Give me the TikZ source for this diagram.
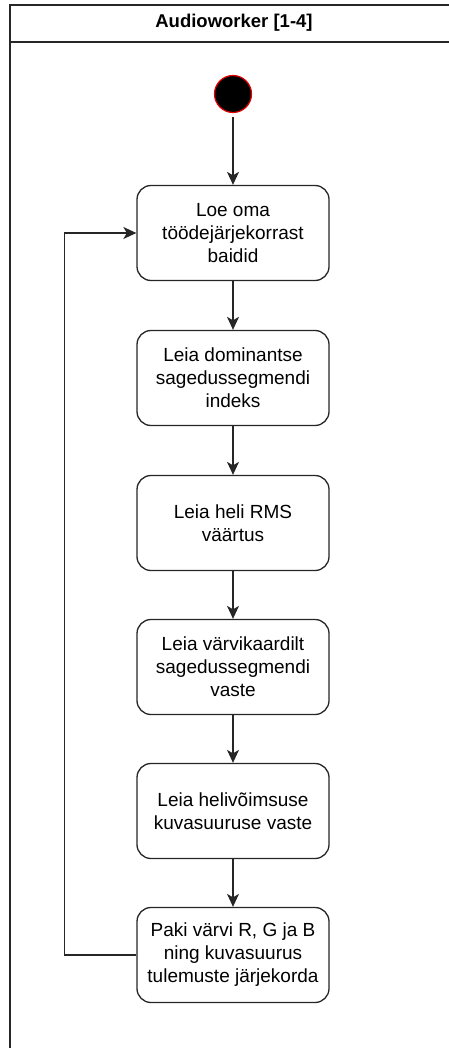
\documentclass[tikz,border=0pt]{standalone}
\usepackage{fontspec}
\setmainfont{Liberation Sans}
\usetikzlibrary{arrows.meta}
\begin{document}
\begin{tikzpicture}[x=1pt,y=-1pt,
  frame/.style={draw=black!85, line width=1.3pt},
  stepbox/.style={draw=black!85, line width=1.3pt, rounded corners=14pt, fill=white,
    minimum width=192pt, minimum height=95pt, align=center,
    font=\fontsize{19}{23}\selectfont},
  flow/.style={draw=black!85, line width=1.3pt, -{Stealth[length=13pt,width=12pt,inset=3.5pt]}}]
\useasboundingbox (0,0) rectangle (448,1048);
% swimlane frame and title bar
\draw[frame] (10,5) rectangle (470,1070);
\draw[frame] (10,42) -- (470,42);
\node[font=\fontsize{18.5}{22}\selectfont\bfseries] (title) at (234,23) {Audioworker [1-4]};
% start node
\node[circle, draw=red!90!black, fill=black, line width=1.2pt, minimum size=37pt, inner sep=0pt] (start) at (233,94) {};
% activity steps
\node[stepbox] (s1) at (233,233) {Loe oma\\töödejärjekorrast\\baidid};
\node[stepbox] (s2) at (233,378) {Leia dominantse\\sagedussegmendi\\indeks};
\node[stepbox] (s3) at (233,523) {Leia heli RMS\\väärtus};
\node[stepbox] (s4) at (233,667) {Leia värvikaardilt\\sagedussegmendi\\vaste};
\node[stepbox] (s5) at (233,811) {Leia helivõimsuse\\kuvasuuruse vaste};
\node[stepbox] (s6) at (233,955) {Paki värvi R, G ja B\\ning kuvasuurus\\tulemuste järjekorda};
% connectors
\draw[flow, shorten <=4pt] (start) -- (s1);
\draw[flow] (s1) -- (s2);
\draw[flow] (s2) -- (s3);
\draw[flow] (s3) -- (s4);
\draw[flow] (s4) -- (s5);
\draw[flow] (s5) -- (s6);
\draw[flow] (s6.west) -- ++(-72,0) |- (s1.west);
\end{tikzpicture}
\end{document}
